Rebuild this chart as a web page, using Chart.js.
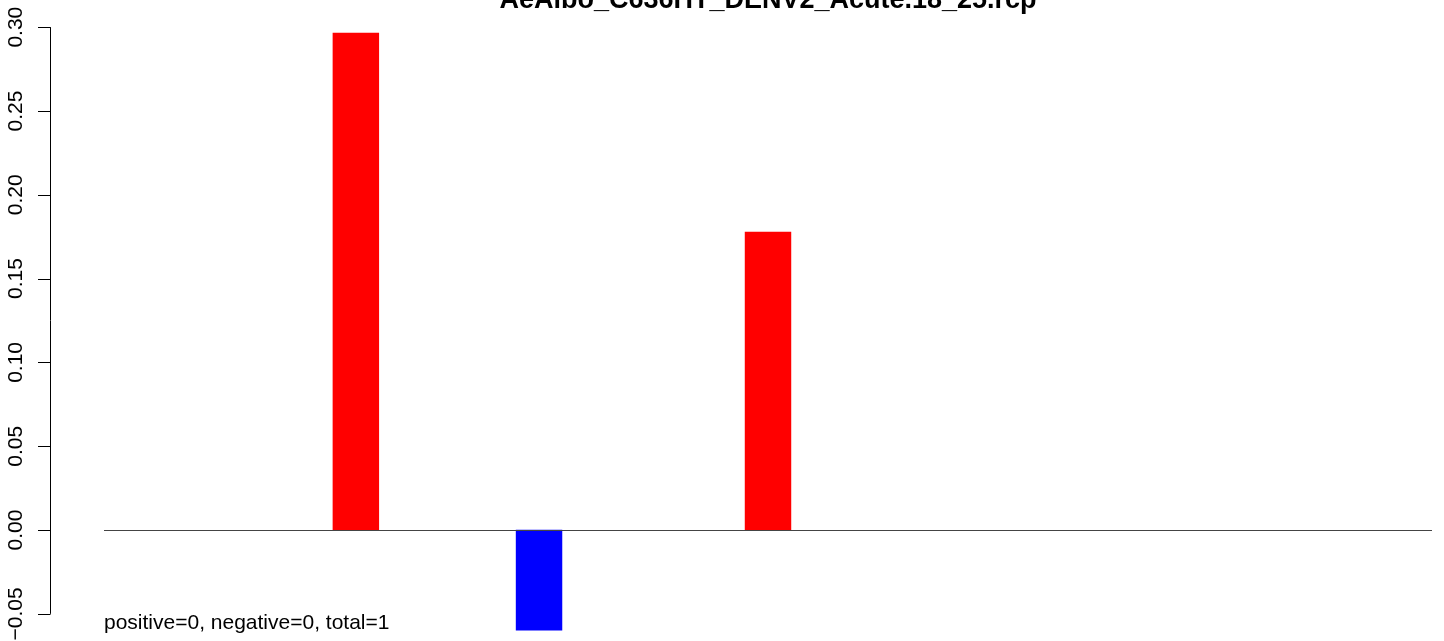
<!DOCTYPE html>
<html>
<head>
<meta charset="utf-8">
<script src="https://cdn.jsdelivr.net/npm/chart.js@4/dist/chart.umd.min.js"></script>
<style>
  html, body { margin: 0; padding: 0; background: #fff; }
  #wrap { position: relative; width: 1444px; height: 641px; }
</style>
</head>
<body>
<div id="wrap"><canvas id="chart"></canvas></div>
<script>
const title = 'AeAlbo_C636HT_DENV2_Acute.18_25.rcp';
const footnote = 'positive=0, negative=0, total=1';

// 29 positions, only three carry a bar
const categories = Array.from({ length: 29 }, (_, i) => String(i + 1));
const values = [
  null, null, null, null, null, 0.2965, null, null, null, -0.0597,
  null, null, null, null, 0.1778, null, null, null, null, null,
  null, null, null, null, null, null, null, null, null,
];
const barColors = values.map(v => (v < 0 ? '#0000ff' : '#ff0000'));
const yTicks = [-0.05, 0, 0.05, 0.1, 0.15, 0.2, 0.25, 0.3];

const font = '"Liberation Sans", Arial, Helvetica, sans-serif';

const rDecor = {
  id: 'rDecor',
  afterDatasetsDraw(chart) {
    const { ctx, chartArea: { left, right }, scales: { y } } = chart;
    ctx.save();

    // zero line
    const y0 = Math.round(y.getPixelForValue(0)) + 0.5;
    ctx.strokeStyle = '#444';
    ctx.lineWidth = 1;
    ctx.beginPath();
    ctx.moveTo(left, y0);
    ctx.lineTo(right, y0);
    ctx.stroke();

    // R style y axis
    const ax = 50.5;
    const top = y.getPixelForValue(yTicks[yTicks.length - 1]);
    const bot = y.getPixelForValue(yTicks[0]);
    ctx.strokeStyle = '#000';
    ctx.beginPath();
    ctx.moveTo(ax, top);
    ctx.lineTo(ax, bot);
    yTicks.forEach(t => {
      const py = Math.round(y.getPixelForValue(t)) + 0.5;
      ctx.moveTo(ax, py);
      ctx.lineTo(38, py);
    });
    ctx.stroke();

    ctx.fillStyle = '#000';
    ctx.font = `21px ${font}`;
    ctx.textAlign = 'center';
    ctx.textBaseline = 'alphabetic';
    yTicks.forEach(t => {
      const py = y.getPixelForValue(t);
      const label = (t < 0 ? '\u2212' : '') + Math.abs(t).toFixed(2);
      ctx.save();
      ctx.translate(22, py);
      ctx.rotate(-Math.PI / 2);
      ctx.fillText(label, 0, 0);
      ctx.restore();
    });

    // title and footnote
    ctx.font = `bold 27px ${font}`;
    ctx.textAlign = 'center';
    ctx.fillText(title, (left + right) / 2, 8);

    ctx.font = `21px ${font}`;
    ctx.textAlign = 'left';
    ctx.fillText(footnote, 104, 629);
    ctx.restore();
  },
};

new Chart(document.getElementById('chart'), {
  type: 'bar',
  data: {
    labels: categories,
    datasets: [{
      data: values,
      backgroundColor: barColors,
      borderWidth: 0,
      categoryPercentage: 1,
      barPercentage: 1,
    }],
  },
  plugins: [rDecor],
  options: {
    responsive: true,
    maintainAspectRatio: false,
    animation: false,
    layout: { padding: { left: 104, right: 12, top: 0, bottom: 0 } },
    plugins: {
      legend: { display: false },
      tooltip: { enabled: false },
    },
    scales: {
      x: { display: false },
      y: { display: false, min: -0.0662, max: 0.3162 },
    },
  },
});
</script>
</body>
</html>
